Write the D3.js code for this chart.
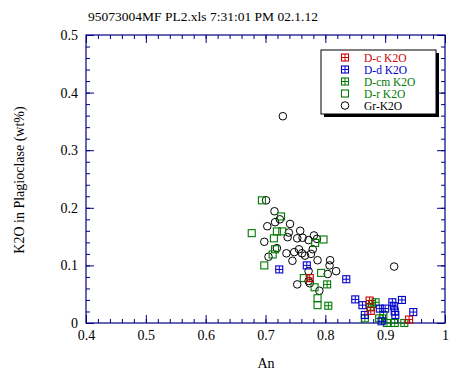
<!DOCTYPE html>
<html><head><meta charset="utf-8">
<script src="https://cdn.jsdelivr.net/npm/d3@7"></script>
<style>body{margin:0;background:#fff}svg{display:block}</style>
</head><body><svg id="c" width="464" height="374"></svg>
<script>
const titleText = "95073004MF PL2.xls 7:31:01 PM 02.1.12";
const xTicks = [0.4,0.5,0.6,0.7,0.8,0.9,1];
const yTicks = [0,0.1,0.2,0.3,0.4,0.5];
const seriesNames = ["D-c K2O","D-d K2O","D-cm K2O","D-r K2O","Gr-K2O"];
const seriesColors = ["#cc0000","#0000cc","#007a00","#007a00","#000000"];
const seriesShapes = ["sqplus","sqplus","sqplus","square","circle"];
const dc = [[0.774,0.078],[0.874,0.039],[0.876,0.021],[0.940,0.006]];
const dd = [[0.723,0.093],[0.769,0.100],[0.835,0.076],[0.850,0.041],[0.862,0.031],[0.866,0.014],[0.891,0.025],[0.900,0.025],[0.912,0.036],[0.915,0.029],[0.916,0.020],[0.917,0.014],[0.928,0.040],[0.894,0.003],[0.947,0.019]];
const dcm = [[0.803,0.067],[0.805,0.030],[0.884,0.036],[0.875,0.028],[0.878,0.033],[0.866,0.008],[0.897,0.014],[0.890,0.008],[0.903,0.000],[0.916,0.000],[0.932,0.000]];
const dr = [[0.694,0.213],[0.726,0.185],[0.677,0.156],[0.719,0.159],[0.728,0.159],[0.714,0.147],[0.783,0.139],[0.797,0.145],[0.716,0.128],[0.712,0.119],[0.698,0.100],[0.764,0.078],[0.793,0.087],[0.782,0.062],[0.787,0.043],[0.787,0.031]];
const gr = [[0.729,0.359],[0.701,0.213],[0.715,0.194],[0.724,0.180],[0.716,0.175],[0.741,0.172],[0.703,0.168],[0.739,0.157],[0.758,0.160],[0.737,0.149],[0.753,0.147],[0.762,0.148],[0.698,0.141],[0.772,0.144],[0.781,0.152],[0.786,0.146],[0.719,0.130],[0.735,0.121],[0.748,0.123],[0.756,0.128],[0.761,0.121],[0.766,0.117],[0.776,0.120],[0.779,0.128],[0.705,0.115],[0.745,0.108],[0.787,0.109],[0.808,0.109],[0.807,0.100],[0.772,0.090],[0.804,0.085],[0.818,0.090],[0.772,0.073],[0.774,0.069],[0.753,0.067],[0.790,0.056],[0.915,0.098]];
const seriesData = [dc, dd, dcm, dr, gr];

const FONT = "'Liberation Serif','Times New Roman',serif";
const svg = d3.select("#c");
const L=86, R=445, T=35, B=323;
const x = d3.scaleLinear().domain([0.4,1]).range([L,R]);
const y = d3.scaleLinear().domain([0,0.5]).range([B,T]);
const axisColor = "#000080";

svg.append("text").attr("x",88).attr("y",21).attr("font-family",FONT).attr("font-size",13.5).text(titleText);

svg.append("rect").attr("x",L).attr("y",T).attr("width",R-L).attr("height",B-T)
  .attr("fill","none").attr("stroke",axisColor).attr("stroke-width",1.2);

const xMinor = d3.range(0.4,1.0001,0.02);
const yMinor = d3.range(0,0.5001,0.02);
function styleAxis(g){ g.attr("font-family",FONT); g.select(".domain").remove(); g.selectAll("line").attr("stroke",axisColor); g.selectAll("text").attr("font-family",FONT).attr("font-size",14).attr("fill","#000"); }
const fmt = d3.format("~g");
svg.append("g").attr("transform",`translate(0,${B})`).call(d3.axisBottom(x).tickValues(xMinor).tickSize(-4).tickFormat("")).call(styleAxis);
svg.append("g").attr("transform",`translate(0,${B})`).call(d3.axisBottom(x).tickValues(xTicks).tickSize(-8).tickPadding(7).tickFormat(fmt)).call(styleAxis);
svg.append("g").attr("transform",`translate(0,${T})`).call(d3.axisTop(x).tickValues(xMinor).tickSize(-4).tickFormat("")).call(styleAxis);
svg.append("g").attr("transform",`translate(0,${T})`).call(d3.axisTop(x).tickValues(xTicks).tickSize(-8).tickFormat("")).call(styleAxis);
svg.append("g").attr("transform",`translate(${L},0)`).call(d3.axisLeft(y).tickValues(yMinor).tickSize(-4).tickFormat("")).call(styleAxis);
svg.append("g").attr("transform",`translate(${L},0)`).call(d3.axisLeft(y).tickValues(yTicks).tickSize(-8).tickPadding(8).tickFormat(fmt)).call(styleAxis);
svg.append("g").attr("transform",`translate(${R},0)`).call(d3.axisRight(y).tickValues(yMinor).tickSize(-4).tickFormat("")).call(styleAxis);
svg.append("g").attr("transform",`translate(${R},0)`).call(d3.axisRight(y).tickValues(yTicks).tickSize(-8).tickFormat("")).call(styleAxis);

svg.append("text").attr("x",266).attr("y",368).attr("text-anchor","middle").attr("font-family",FONT).attr("font-size",14).text("An");
svg.append("text").attr("transform","translate(24,180) rotate(-90)").attr("text-anchor","middle").attr("font-family",FONT).attr("font-size",14).text("K2O in Plagioclase (wt%)");

function drawMarker(g, shape, color, cx, cy){
  const h=3.5;
  if(shape==="circle"){
    g.append("circle").attr("cx",cx).attr("cy",cy).attr("r",3.8).attr("fill","none").attr("stroke",color).attr("stroke-width",1);
  } else {
    g.append("rect").attr("x",cx-h).attr("y",cy-h).attr("width",2*h).attr("height",2*h).attr("fill","none").attr("stroke",color).attr("stroke-width",1.1);
    if(shape==="sqplus"){
      g.append("line").attr("x1",cx-h).attr("x2",cx+h).attr("y1",cy).attr("y2",cy).attr("stroke",color).attr("stroke-width",1);
      g.append("line").attr("x1",cx).attr("x2",cx).attr("y1",cy-h).attr("y2",cy+h).attr("stroke",color).attr("stroke-width",1);
    }
  }
}
const pts = svg.append("g");
[4,3,2,1,0].forEach(i=>{
  seriesData[i].forEach(d=>drawMarker(pts, seriesShapes[i], seriesColors[i], x(d[0]), y(d[1])));
});

const lg = svg.append("g");
lg.append("rect").attr("x",324).attr("y",53).attr("width",115).attr("height",64).attr("fill","#000");
lg.append("rect").attr("x",321).attr("y",50).attr("width",115).attr("height",64).attr("fill","#fff").attr("stroke","#000").attr("stroke-width",1);
seriesNames.forEach((n,i)=>{
  const yy = 57.5 + i*12;
  drawMarker(lg, seriesShapes[i], seriesColors[i], 345, yy);
  lg.append("text").attr("x",364).attr("y",yy+4).attr("font-family",FONT).attr("font-size",11.5).attr("fill",seriesColors[i]).text(n);
});
</script></body></html>
